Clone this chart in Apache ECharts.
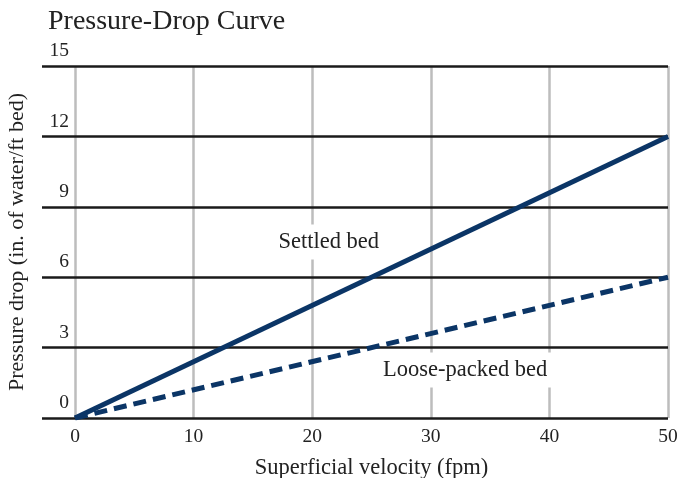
<!DOCTYPE html>
<html><head><meta charset="utf-8">
<script src="https://cdn.jsdelivr.net/npm/echarts@6/dist/echarts.min.js"></script>
<style>html,body{margin:0;padding:0;background:#fff}#c{width:678px;height:478px}</style>
</head><body><div id="c"></div>
<script>
const xValues = [0, 50];
const settledBed = [0, 12];
const loosePackedBed = [0, 6];
const yTicks = [0, 3, 6, 9, 12, 15];
const xTicks = [0, 10, 20, 30, 40, 50];
const annotations = [
  { name: 'Settled bed', x: 21.4, y: 7.5 },
  { name: 'Loose-packed bed', x: 32.9, y: 2.05 }
];
const font = '"Liberation Serif", "DejaVu Serif", serif';
const navy = '#0b3566';
const chart = echarts.init(document.getElementById('c'));
chart.setOption({
  animation: false,
  backgroundColor: '#fff',
  title: { text: 'Pressure-Drop Curve', left: 43, top: 3,
    textStyle: { fontFamily: font, fontSize: 28, fontWeight: 'normal', color: '#222' } },
  grid: [
    { left: 42, right: 10, top: 66, bottom: 60, outerBoundsMode: 'none', containLabel: false },
    { left: 75, right: 10, top: 66, bottom: 60, outerBoundsMode: 'none', containLabel: false }
  ],
  xAxis: [
    { gridIndex: 0, type: 'value', min: 0, max: 1, show: false },
    { gridIndex: 1, type: 'value', min: 0, max: 50, interval: 10,
      name: 'Superficial velocity (fpm)', nameLocation: 'middle', nameGap: 39,
      nameTextStyle: { fontFamily: font, fontSize: 22.5, color: '#222' },
      axisLine: { show: false }, axisTick: { show: false },
      axisLabel: { fontFamily: font, fontSize: 19.5, color: '#222', margin: 9 },
      splitLine: { show: true, lineStyle: { color: '#bdbdbd', width: 2.5 } } }
  ],
  yAxis: [
    { gridIndex: 0, type: 'value', min: 0, max: 15, interval: 3,
      name: 'Pressure drop (in. of water/ft bed)', nameLocation: 'middle', nameGap: 14,
      nameTextStyle: { fontFamily: font, fontSize: 22, color: '#222' },
      axisLine: { show: false }, axisTick: { show: false },
      axisLabel: { inside: true, align: 'right', margin: 27, verticalAlign: 'bottom',
        padding: [0, 0, 5, 0], fontFamily: font, fontSize: 19.5, color: '#222',
        formatter: v => yTicks.includes(v) ? String(v) : '' },
      splitLine: { show: true, lineStyle: { color: '#1a1a1a', width: 2.5 } }, z: 3 },
    { gridIndex: 1, type: 'value', min: 0, max: 15, show: false, splitLine: { show: false } }
  ],
  series: [
    { type: 'line', xAxisIndex: 1, yAxisIndex: 1, symbol: 'none', z: 5,
      data: xValues.map((x, i) => [x, settledBed[i]]),
      lineStyle: { color: navy, width: 5 } },
    { type: 'line', xAxisIndex: 1, yAxisIndex: 1, symbol: 'none', z: 5,
      data: xValues.map((x, i) => [x, loosePackedBed[i]]),
      lineStyle: { color: navy, width: 5, type: [13, 7] } },
    { type: 'scatter', xAxisIndex: 1, yAxisIndex: 1, symbolSize: 0, z: 4,
      itemStyle: { opacity: 1 }, silent: true,
      data: annotations.map(a => ({ name: a.name, value: [a.x, a.y] })),
      label: { show: true, position: 'inside', formatter: p => p.name, opacity: 1,
        fontFamily: font, fontSize: 22.5, color: '#222',
        backgroundColor: '#fff', padding: [6, 4, 6, 4] } }
  ]
});
</script></body></html>
